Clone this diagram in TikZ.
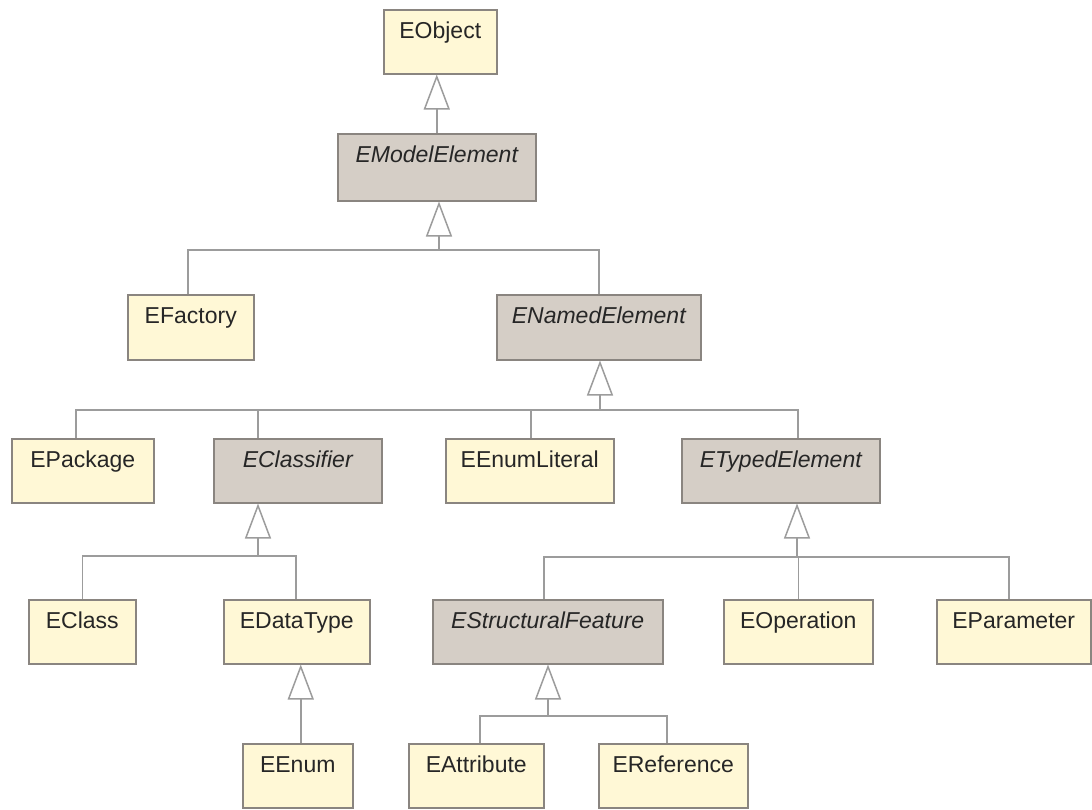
\documentclass[tikz,border=0pt]{standalone}
\usepackage{fontspec}
\setmainfont{Liberation Sans}
\usetikzlibrary{arrows.meta}
\definecolor{classfill}{HTML}{FFF8D6}
\definecolor{absfill}{HTML}{D5CEC6}
\definecolor{boxline}{HTML}{8A8580}
\definecolor{wirecol}{HTML}{9C9C9C}
\definecolor{inkcol}{HTML}{262626}

\begin{document}
\begin{tikzpicture}[x=1pt,y=-1pt,
  classbox/.style={draw=boxline, line width=1.5pt, fill=classfill,
    inner xsep=0pt, inner ysep=0pt, text height=29pt, text depth=35pt,
    minimum width=#1, anchor=north west, text=inkcol,
    font=\fontsize{23}{27}\selectfont},
  abstractbox/.style={classbox=#1, fill=absfill,
    font=\fontsize{23}{27}\selectfont\itshape},
  wire/.style={draw=wirecol, line width=1.5pt},
  gen/.style={wire, -{Triangle[width=26pt, length=35pt, fill=white, line width=1.5pt]}}
]
\fill[white] (0,0) rectangle (1092,809);
\useasboundingbox (0,0) rectangle (1092,809);

% classes
\node[classbox=113] (eObject) at (383,9) {EObject};
\node[abstractbox=198, text depth=38pt] (eModel) at (337,133) {EModelElement};
\node[classbox=126, text depth=36pt] (eFactory) at (127,294) {EFactory};
\node[abstractbox=204, text depth=36pt] (eNamed) at (496,294) {ENamedElement};
\node[classbox=142] (ePackage) at (11,438) {EPackage};
\node[abstractbox=168] (eClassifier) at (213,438) {EClassifier};
\node[classbox=168] (eEnumLit) at (445,438) {EEnumLiteral};
\node[abstractbox=198] (eTyped) at (681,438) {ETypedElement};
\node[classbox=107] (eClass) at (28,599) {EClass};
\node[classbox=146] (eDataType) at (223,599) {EDataType};
\node[abstractbox=230] (eStructural) at (432,599) {EStructuralFeature};
\node[classbox=149] (eOperation) at (723,599) {EOperation};
\node[classbox=154] (eParameter) at (936,599) {EParameter};
\node[classbox=110] (eEnum) at (242,743) {EEnum};
\node[classbox=135] (eAttribute) at (408,743) {EAttribute};
\node[classbox=149] (eReference) at (598,743) {EReference};

% junctions of the generalization trees
\coordinate (jModel) at (439,250);
\coordinate (jNamed) at (600,410);
\coordinate (jClassifier) at (258,556);
\coordinate (jTyped) at (797,557);
\coordinate (jStructural) at (548,716);

% EModelElement -> EObject
\draw[gen] (eModel.north) -- (eModel.north |- eObject.south);

% children of EModelElement
\draw[gen] (jModel) -- (jModel |- eModel.south);
\draw[wire] ([xshift=-3pt]eFactory.north) |- (jModel) -| (eNamed.north);

% children of ENamedElement
\draw[gen] (jNamed) -- (jNamed |- eNamed.south);
\draw[wire] ([xshift=-7pt]ePackage.north) |- (jNamed) -| ([xshift=17pt]eTyped.north);
\draw[wire] ([xshift=-40pt]eClassifier.north) -- ([xshift=-40pt]eClassifier.north |- jNamed);
\draw[wire] ([xshift=1pt]eEnumLit.north) -- ([xshift=1pt]eEnumLit.north |- jNamed);

% children of EClassifier
\draw[gen] (jClassifier) -- (jClassifier |- eClassifier.south);
\draw[wire] (eClass.north) |- (jClassifier) -| ([xshift=-1pt]eDataType.north);

% EEnum -> EDataType
\draw[gen] ([xshift=3pt]eEnum.north) -- ([xshift=3pt]eEnum.north |- eDataType.south);

% children of ETypedElement
\draw[gen] (jTyped) -- (jTyped |- eTyped.south);
\draw[wire] ([xshift=-4pt]eStructural.north) |- (jTyped) -| ([xshift=-5pt]eParameter.north);
\draw[wire] (eOperation.north) -- (eOperation.north |- jTyped);

% children of EStructuralFeature
\draw[gen] (jStructural) -- (jStructural |- eStructural.south);
\draw[wire] ([xshift=3.5pt]eAttribute.north) |- (jStructural) -| ([xshift=-6.5pt]eReference.north);
\end{tikzpicture}
\end{document}
